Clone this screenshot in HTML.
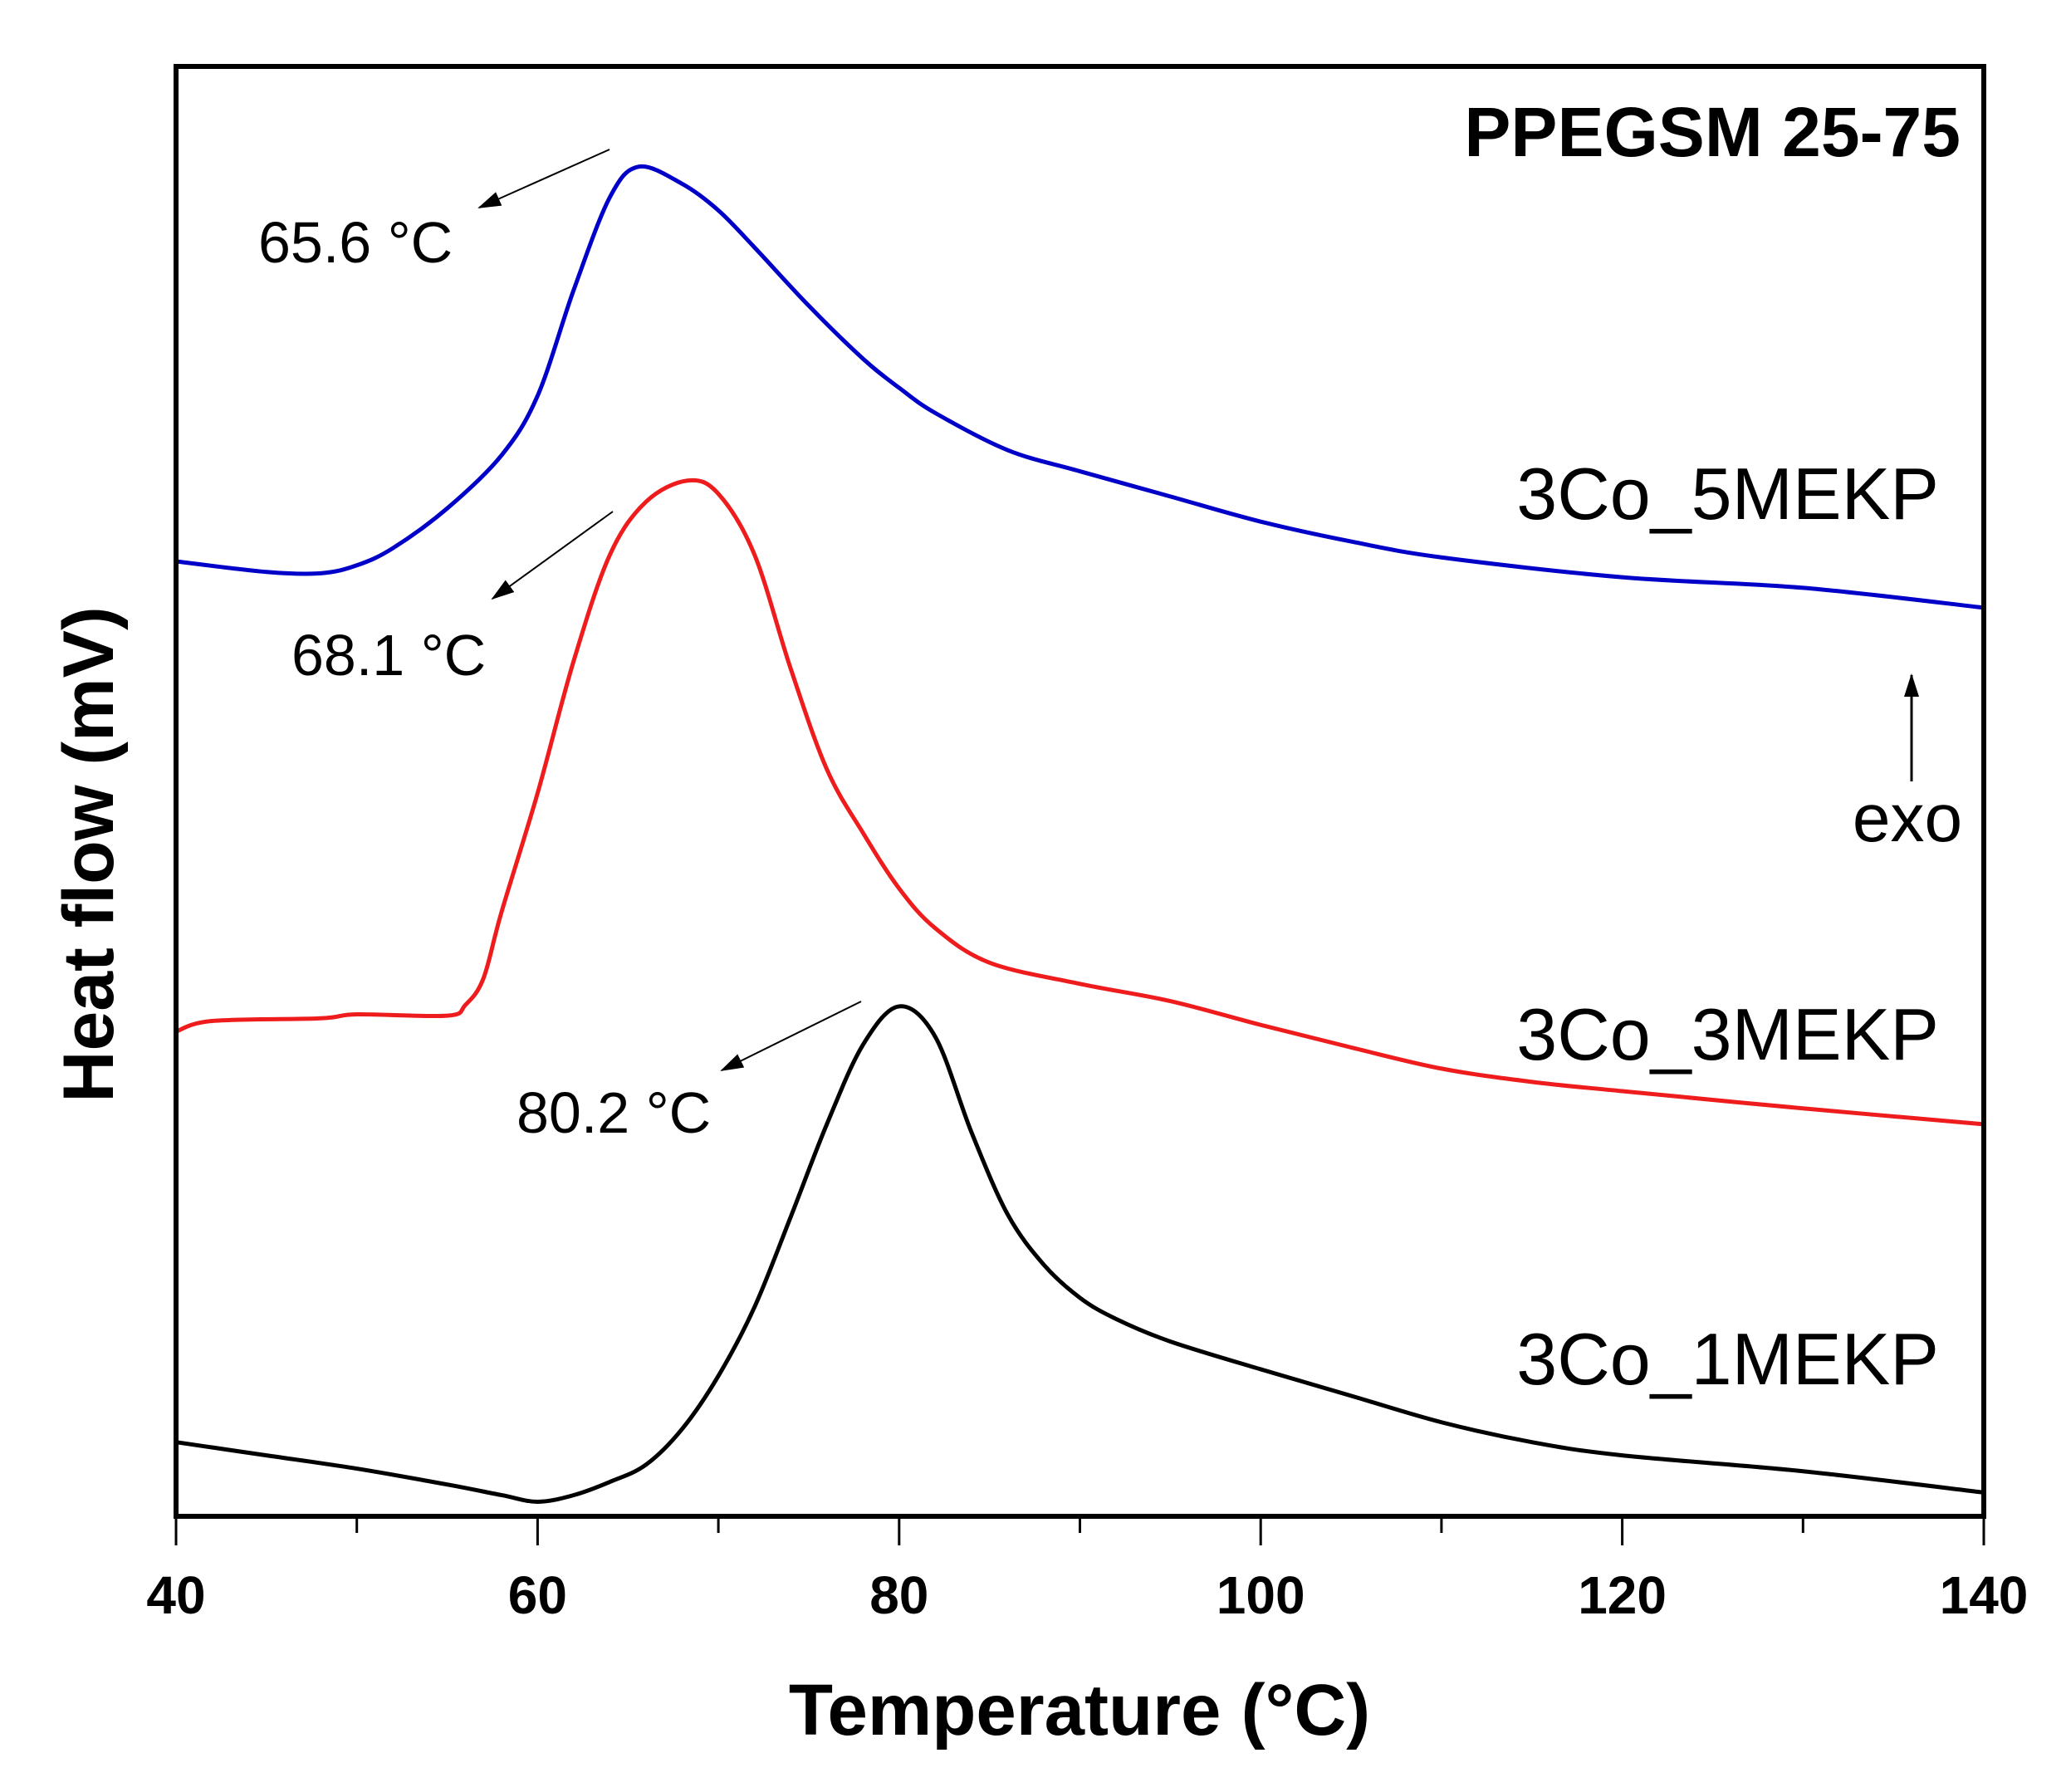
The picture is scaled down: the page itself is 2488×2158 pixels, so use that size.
<!DOCTYPE html>
<html><head><meta charset="utf-8"><style>
html,body{margin:0;padding:0;background:#fff}
svg{display:block}
text{font-family:"Liberation Sans",Arial,sans-serif}
</style></head><body>
<svg id="chart" width="2488" height="2158" viewBox="0 0 2488 2158" xmlns="http://www.w3.org/2000/svg">
<defs>
<marker id="ah2" markerWidth="28" markerHeight="20" refX="26" refY="10" orient="auto" markerUnits="userSpaceOnUse"><path d="M0,1 L28,10 L0,19 Z" fill="#000"/></marker></defs>
<g id="curves"></g>
<rect x="212" y="80" width="2177" height="1746" fill="none" stroke="#000" stroke-width="6"/>
<g id="ticks"></g>
<text x="2361" y="188" text-anchor="end" font-size="84" font-weight="bold">PPEGSM 25-75</text>
<text x="2335" y="625" text-anchor="end" font-size="88">3Co_5MEKP</text>
<text x="2335" y="1276" text-anchor="end" font-size="88">3Co_3MEKP</text>
<text x="2335" y="1667" text-anchor="end" font-size="88">3Co_1MEKP</text>
<text x="311" y="316" font-size="70">65.6 °C</text>
<text x="351" y="813" font-size="70">68.1 °C</text>
<text x="622" y="1364" font-size="70">80.2 °C</text>
<line x1="734" y1="180" x2="577" y2="250" stroke="#000" stroke-width="2" marker-end="url(#ah2)"/>
<line x1="738" y1="616" x2="593" y2="721" stroke="#000" stroke-width="2" marker-end="url(#ah2)"/>
<line x1="1037" y1="1206" x2="869" y2="1289" stroke="#000" stroke-width="2" marker-end="url(#ah2)"/>
<line x1="2302" y1="941" x2="2302" y2="813" stroke="#000" stroke-width="3" marker-end="url(#ah2)"/>
<text x="2297" y="1013" text-anchor="middle" font-size="82">exo</text>
<text x="1300" y="2089" text-anchor="middle" font-size="87" font-weight="bold">Temperature (°C)</text>
<text transform="translate(136,1029) rotate(-90)" text-anchor="middle" font-size="86" font-weight="bold">Heat flow (mV)</text>
</svg>
<script>
const xTicks=[40,60,80,100,120,140];
const xMinor=[50,70,90,110,130];
const blueT=[40,45,48,50,52,55,58,60,62,64,65.6,68,70,72,75,78,80,82,86,90,95,100,105,110,120,130,140];
const blueV=[72.1,71.3,71.2,71.8,73.1,76.1,80.1,84.6,92.6,99.6,101.9,100.6,98.6,95.8,91.4,87.4,85.2,83.3,80.5,78.9,77.0,75.1,73.6,72.4,70.9,70.1,68.6];
const redT=[40,42,48,50,55,56,57,58,60,62,64,66,68.3,70,72,74,76,78,80,82,85,90,95,100,105,110,115,120,130,140];
const redV=[36.6,37.4,37.6,37.9,37.8,38.6,40.6,45.6,54.6,64.6,72.6,76.6,78.2,77.2,72.6,64.0,56.4,51.6,47.4,44.4,41.8,40.2,38.9,37.1,35.4,33.8,32.8,32.1,30.8,29.6];
const blackT=[40,45,50,55,58,60,62,64,66,68,70,72,74,76,78,80,82,84,86,88,90,92,95,100,105,110,115,120,130,140];
const blackV=[5.6,4.6,3.6,2.4,1.6,1.1,1.6,2.6,3.9,6.6,10.6,15.8,22.6,29.6,35.6,38.5,36.2,29.0,22.8,19.0,16.5,14.9,13.2,11.1,9.1,7.1,5.6,4.6,3.4,1.8];
const NS='http://www.w3.org/2000/svg';
function xs(t){return 212+(t-40)*(2389-212)/100;}
function ys(v){return 1826-v*15.95;}
function smooth(T,V){
  const p=T.map((t,i)=>[xs(t),ys(V[i])]);
  let d='M'+p[0][0]+','+p[0][1];
  for(let i=0;i<p.length-1;i++){
    const p0=p[i-1]||p[i],p1=p[i],p2=p[i+1],p3=p[i+2]||p2;
    const c1=[p1[0]+(p2[0]-p0[0])/6,p1[1]+(p2[1]-p0[1])/6];
    const c2=[p2[0]-(p3[0]-p1[0])/6,p2[1]-(p3[1]-p1[1])/6];
    d+=' C'+c1[0]+','+c1[1]+' '+c2[0]+','+c2[1]+' '+p2[0]+','+p2[1];
  }
  return d;
}
const g=document.getElementById('curves');
[[blueT,blueV,'#0000c8','curve-3co-5mekp'],[redT,redV,'#ee1c1c','curve-3co-3mekp'],[blackT,blackV,'#000','curve-3co-1mekp']].forEach(s=>{
  const path=document.createElementNS(NS,'path');
  path.setAttribute('d',smooth(s[0],s[1]));
  path.setAttribute('fill','none');path.setAttribute('stroke',s[2]);path.setAttribute('stroke-width','5');
  path.setAttribute('stroke-linejoin','round');
  
  
  g.appendChild(path);
});
const tg=document.getElementById('ticks');
xTicks.forEach(t=>{
  const l=document.createElementNS(NS,'line');
  l.setAttribute('x1',xs(t));l.setAttribute('x2',xs(t));l.setAttribute('y1',1826);l.setAttribute('y2',1861);
  l.setAttribute('stroke','#000');l.setAttribute('stroke-width','3');
  
  
  tg.appendChild(l);
  const tx=document.createElementNS(NS,'text');
  tx.setAttribute('x',xs(t));tx.setAttribute('y',1943);tx.setAttribute('text-anchor','middle');
  tx.setAttribute('font-size','64');tx.setAttribute('font-weight','bold');tx.textContent=t;
  
  
  tg.appendChild(tx);
});
xMinor.forEach(t=>{
  const l=document.createElementNS(NS,'line');
  l.setAttribute('x1',xs(t));l.setAttribute('x2',xs(t));l.setAttribute('y1',1826);l.setAttribute('y2',1846);
  l.setAttribute('stroke','#000');l.setAttribute('stroke-width','3');
  
  
  tg.appendChild(l);
});
</script>
</body></html>
